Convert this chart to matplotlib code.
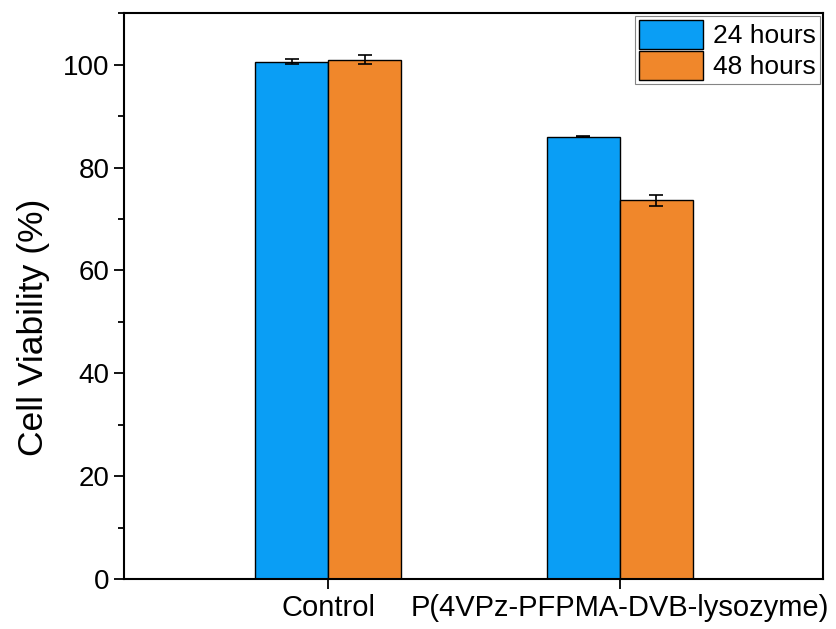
import numpy as np
import matplotlib.pyplot as plt
from matplotlib.ticker import MultipleLocator

plt.rcParams['font.family'] = ['Liberation Sans', 'DejaVu Sans']

groups = ['Control', 'P(4VPz-PFPMA-DVB-lysozyme)']
v24 = [100.6, 86.0]
e24 = [0.5, 0.15]
v48 = [101.0, 73.6]
e48 = [0.8, 1.1]

fig = plt.figure(figsize=(8.37, 6.29), dpi=100)
ax = fig.add_axes([0.148, 0.0795, 0.835, 0.8995])

x = np.arange(1, len(groups) + 1)
w = 0.25
ax.bar(x - w / 2, v24, w, yerr=e24, color='#0A9EF5', edgecolor='black', linewidth=1.0,
       capsize=5, error_kw=dict(elinewidth=1.2, capthick=1.2), label='24 hours')
ax.bar(x + w / 2, v48, w, yerr=e48, color='#F0872B', edgecolor='black', linewidth=1.0,
       capsize=5, error_kw=dict(elinewidth=1.2, capthick=1.2), label='48 hours')

ax.set_xlim(0.3, 2.695)
ax.set_ylim(0, 110)
ax.set_xticks([1, 2])
ax.set_xticklabels(groups, fontsize=21)
ax.yaxis.set_major_locator(MultipleLocator(20))
ax.yaxis.set_minor_locator(MultipleLocator(10))
ax.tick_params(axis='y', which='major', labelsize=20)
ax.tick_params(axis='both', which='major', length=7, width=1.3, direction='out')
ax.tick_params(axis='y', which='minor', length=4, width=1.3, direction='out')
for s in ax.spines.values():
    s.set_linewidth(1.5)

ax.set_ylabel('Cell Viability (%)', fontsize=25.5)
ax.yaxis.set_label_coords(-0.105, 0.445)

leg = ax.legend(loc='upper right', fontsize=19, frameon=True, fancybox=False,
                edgecolor='#666666', handlelength=2.4, handleheight=1.3,
                borderpad=0.15, labelspacing=0.1, handletextpad=0.4, borderaxespad=0.1)
leg.get_frame().set_linewidth(0.8)

fig.savefig('out.png', dpi=100)
